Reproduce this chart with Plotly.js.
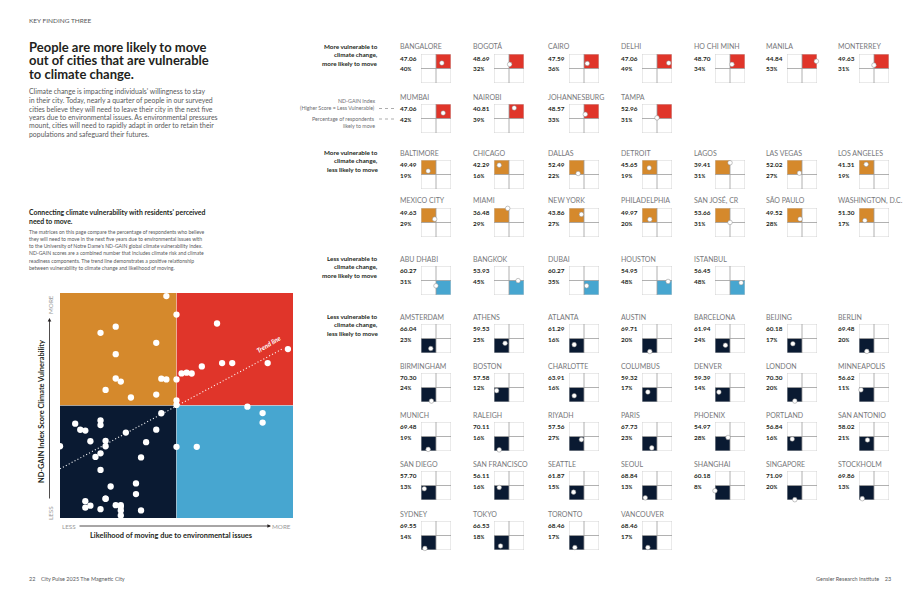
<!DOCTYPE html>
<html><head><meta charset="utf-8">
<script src="https://cdn.plot.ly/plotly-3.0.1.min.js"></script>
<style>html,body{margin:0;padding:0;background:#fff}#chart{width:920px;height:596px}</style>
</head><body><div id="chart"></div>
<script>
// ---------------- DATA ----------------
const redCities = ['BANGALORE','BOGOTÁ','CAIRO','DELHI','HO CHI MINH','MANILA','MONTERREY','MUMBAI','NAIROBI','JOHANNESBURG','TAMPA'];
const redScores = [47.06,48.69,47.59,47.06,48.70,44.84,49.63,47.06,40.81,48.57,52.96];
const redPcts   = [40,32,36,49,34,53,31,42,39,33,31];

const orangeCities = ['BALTIMORE','CHICAGO','DALLAS','DETROIT','LAGOS','LAS VEGAS','LOS ANGELES','MEXICO CITY','MIAMI','NEW YORK','PHILADELPHIA','SAN JOSÉ, CR','SÃO PAULO','WASHINGTON, D.C.'];
const orangeScores = [49.49,42.29,52.49,45.65,39.41,52.02,41.31,49.63,36.48,43.86,49.97,53.66,49.52,51.30];
const orangePcts   = [19,16,22,19,31,27,19,29,29,27,20,31,28,17];

const blueCities = ['ABU DHABI','BANGKOK','DUBAI','HOUSTON','ISTANBUL'];
const blueScores = [60.27,53.93,60.27,54.95,56.45];
const bluePcts   = [31,45,35,48,48];

const navyCities = ['AMSTERDAM','ATHENS','ATLANTA','AUSTIN','BARCELONA','BEIJING','BERLIN',
  'BIRMINGHAM','BOSTON','CHARLOTTE','COLUMBUS','DENVER','LONDON','MINNEAPOLIS',
  'MUNICH','RALEIGH','RIYADH','PARIS','PHOENIX','PORTLAND','SAN ANTONIO',
  'SAN DIEGO','SAN FRANCISCO','SEATTLE','SEOUL','SHANGHAI','SINGAPORE','STOCKHOLM',
  'SYDNEY','TOKYO','TORONTO','VANCOUVER'];
const navyScores = [66.04,59.53,61.29,69.71,61.94,60.18,69.48,
  70.30,57.58,63.91,59.32,59.39,70.30,56.62,
  69.48,70.11,57.56,67.73,54.97,56.84,58.02,
  57.70,56.11,61.87,68.84,60.18,71.09,69.86,
  69.55,66.53,68.46,68.46];
const navyPcts = [23,25,16,20,24,17,20,
  24,12,16,17,14,20,11,
  19,16,27,23,28,16,21,
  13,16,15,13,8,20,13,
  14,18,17,17];

const groupLabels = [
  ['More vulnerable to','climate change,','more likely to move'],
  ['More vulnerable to','climate change,','less likely to move'],
  ['Less vulnerable to','climate change,','more likely to move'],
  ['Less vulnerable to','climate change,','less likely to move']
];
const headerText = 'KEY FINDING THREE';
const titleLines = ['People are more likely to move','out of cities that are vulnerable','to climate change.'];
const bodyLines = [
  "Climate change is impacting individuals' willingness to stay",
  'in their city. Today, nearly a quarter of people in our surveyed',
  'cities believe they will need to leave their city in the next five',
  'years due to environmental issues. As environmental pressures',
  'mount, cities will need to rapidly adapt in order to retain their',
  'populations and safeguard their futures.'
];
const subTitleLines = ["Connecting climate vulnerability with residents' perceived",'need to move.'];
const subBodyLines = [
  'The matrices on this page compare the percentage of respondents who believe',
  'they will need to move in the next five years due to environmental issues with',
  "to the University of Notre Dame's ND-GAIN global climate vulnerability index.",
  'ND-GAIN scores are a combined number that includes climate risk and climate',
  'readiness components. The trend line demonstrates a positive relationship',
  'between vulnerability to climate change and likelihood of moving.'
];
const keyScoreLines = ['ND-GAIN Index','(Higher Score = Less Vulnerable)'];
const keyPctLines = ['Percentage of respondents','likely to move'];
const yTitle = 'ND-GAIN Index Score Climate Vulnerability';
const xTitle = 'Likelihood of moving due to environmental issues';
const footerLeft = '22\u2003 City Pulse 2025 The Magnetic City';
const footerRight = 'Gensler Research Institute\u2003 23';

// ---------------- STYLE / LAYOUT ----------------
const W = 920, H = 596;
const px = x => x / W, py = y => 1 - y / H;
const F = 'Lato, "Open Sans", sans-serif';
const X_RANGE = [8, 54], Y_RANGE = [71.5, 36];
const X_MID = (X_RANGE[0] + X_RANGE[1]) / 2, Y_MID = (Y_RANGE[0] + Y_RANGE[1]) / 2;
const COL = {red:'#e0352a', orange:'#d5892c', blue:'#47a6d0', navy:'#0a1a32'};

const groups = [
  {cities:redCities, scores:redScores, pcts:redPcts, color:COL.red, qx:'right', qy:'top', row:0},
  {cities:orangeCities, scores:orangeScores, pcts:orangePcts, color:COL.orange, qx:'left', qy:'top', row:2},
  {cities:blueCities, scores:blueScores, pcts:bluePcts, color:COL.blue, qx:'right', qy:'bottom', row:4},
  {cities:navyCities, scores:navyScores, pcts:navyPcts, color:COL.navy, qx:'left', qy:'bottom', row:5}
];
const rowTop = [54, 104, 160, 208, 266, 324, 373, 422, 471, 521];
const colLeft = [421, 494, 569, 642, 715, 787, 859];
const BW = 30, BH = 29;

const traces = [], shapes = [], annotations = [];
const layout = {
  width: W, height: H, margin:{l:0,r:0,t:0,b:0},
  paper_bgcolor:'#fff', plot_bgcolor:'rgba(0,0,0,0)',
  showlegend:false, hovermode:false,
  shapes, annotations
};
function axis(dom, range){ return {domain:dom, range:range, visible:false, showgrid:false, zeroline:false, fixedrange:true}; }
function txt(x, y, text, o){
  o = o || {};
  return {xref:'paper', yref:'paper', x:px(x), y:py(y), text:text, showarrow:false,
    xanchor:o.xa || 'left', yanchor:o.ya || 'middle', textangle:o.angle || 0,
    font:{family:F, size:o.size || 7, color:o.color || '#58595b', weight:o.weight || 400, style:o.style || 'normal'}};
}

// ---------------- BIG SCATTER ----------------
const BIG = {l:60, r:293, t:293, b:518};
layout.xaxis = axis([px(BIG.l), px(BIG.r)], X_RANGE);
layout.yaxis = axis([py(BIG.b), py(BIG.t)], Y_RANGE);
const quads = [
  {x0:X_RANGE[0], x1:X_MID, y0:Y_RANGE[1], y1:Y_MID, c:COL.orange},
  {x0:X_MID, x1:X_RANGE[1], y0:Y_RANGE[1], y1:Y_MID, c:COL.red},
  {x0:X_RANGE[0], x1:X_MID, y0:Y_MID, y1:Y_RANGE[0], c:COL.navy},
  {x0:X_MID, x1:X_RANGE[1], y0:Y_MID, y1:Y_RANGE[0], c:COL.blue}
];
quads.forEach(q => shapes.push({type:'rect', xref:'x', yref:'y', x0:q.x0, x1:q.x1, y0:q.y0, y1:q.y1,
  fillcolor:q.c, line:{width:0}, layer:'below'}));
shapes.push({type:'line', xref:'x', yref:'y', x0:X_MID, x1:X_MID, y0:Y_RANGE[0], y1:Y_RANGE[1], line:{color:'rgba(255,255,255,0.6)', width:0.6}, layer:'below'});
shapes.push({type:'line', xref:'x', yref:'y', x0:X_RANGE[0], x1:X_RANGE[1], y0:Y_MID, y1:Y_MID, line:{color:'rgba(255,255,255,0.6)', width:0.6}, layer:'below'});

const allX = [], allY = [];
groups.forEach(g => { allX.push(...g.pcts); allY.push(...g.scores); });
// least-squares trend line
const n = allX.length;
const mx = allX.reduce((a,b)=>a+b,0)/n, my = allY.reduce((a,b)=>a+b,0)/n;
let sxy = 0, sxx = 0;
for (let i=0;i<n;i++){ sxy += (allX[i]-mx)*(allY[i]-my); sxx += (allX[i]-mx)**2; }
const slope = sxy/sxx, icpt = my - slope*mx;
const tx = [X_RANGE[0], Math.max(...allX) - 1];
traces.push({type:'scatter', mode:'lines', x:tx, y:tx.map(v=>icpt+slope*v), xaxis:'x', yaxis:'y',
  line:{color:'rgba(255,255,255,0.95)', width:1.1, dash:'1.1px,2.2px'}, cliponaxis:false});
traces.push({type:'scatter', mode:'markers', x:allX, y:allY, xaxis:'x', yaxis:'y', cliponaxis:false,
  marker:{color:'#fff', size:6.3, line:{width:0}}});
annotations.push(txt(268, 344, 'Trend line', {xa:'center', size:6.5, color:'#fff', weight:700, style:'italic', angle:-31}));

// axis decorations
annotations.push(txt(50, 305, 'MORE', {xa:'center', size:6.3, color:'#9a9a9a', angle:-90}));
annotations.push(txt(50, 513, 'LESS', {xa:'center', size:6.3, color:'#9a9a9a', angle:-90}));
annotations.push(txt(41, 412, yTitle, {xa:'center', size:7.4, color:'#231f20', weight:700, angle:-90}));
annotations.push({xref:'paper', yref:'paper', x:px(49.5), y:py(318), ax:0, ay:182, axref:'pixel', ayref:'pixel',
  text:'', showarrow:true, arrowhead:2, arrowsize:0.9, arrowwidth:0.8, arrowcolor:'#231f20', standoff:0});
annotations.push(txt(60, 526, 'LESS', {size:6.3, color:'#9a9a9a'}));
annotations.push(txt(293, 526, 'MORE', {xa:'right', size:6.3, color:'#9a9a9a'}));
annotations.push({xref:'paper', yref:'paper', x:px(271), y:py(526), ax:-193, ay:0, axref:'pixel', ayref:'pixel',
  text:'', showarrow:true, arrowhead:2, arrowsize:0.9, arrowwidth:0.8, arrowcolor:'#231f20', standoff:0});
annotations.push(txt(171, 535.5, xTitle, {xa:'center', size:7.4, color:'#231f20', weight:700}));

// ---------------- SMALL MULTIPLES ----------------
let k = 2;
groups.forEach((g, gi) => {
  g.cities.forEach((c, i) => {
    const row = g.row + Math.floor(i/7), col = i % 7;
    const L = colLeft[col], T = rowTop[row];
    const xa = 'x'+k, ya = 'y'+k;
    layout['xaxis'+k] = axis([px(L), px(L+BW)], X_RANGE);
    layout['yaxis'+k] = axis([py(T+BH), py(T)], Y_RANGE);
    const qx0 = g.qx === 'right' ? X_MID : X_RANGE[0], qx1 = g.qx === 'right' ? X_RANGE[1] : X_MID;
    const qy0 = g.qy === 'top' ? Y_RANGE[1] : Y_MID, qy1 = g.qy === 'top' ? Y_MID : Y_RANGE[0];
    shapes.push({type:'rect', xref:xa, yref:ya, x0:qx0, x1:qx1, y0:qy0, y1:qy1, fillcolor:g.color, line:{width:0}, layer:'below'});
    shapes.push({type:'rect', xref:xa, yref:ya, x0:X_RANGE[0], x1:X_RANGE[1], y0:Y_RANGE[0], y1:Y_RANGE[1], line:{color:'#cfcfcf', width:0.9}, layer:'below'});
    shapes.push({type:'line', xref:xa, yref:ya, x0:X_MID, x1:X_MID, y0:Y_RANGE[0], y1:Y_RANGE[1], line:{color:'#9d9d9d', width:0.8}, layer:'below'});
    shapes.push({type:'line', xref:xa, yref:ya, x0:X_RANGE[0], x1:X_RANGE[1], y0:Y_MID, y1:Y_MID, line:{color:'#9d9d9d', width:0.8}, layer:'below'});
    traces.push({type:'scatter', mode:'markers', x:[g.pcts[i]], y:[g.scores[i]], xaxis:xa, yaxis:ya, cliponaxis:false,
      marker:{color:'#fff', size:4.6, line:{color:'#8a8a8a', width:0.5}}});
    const lx = L - 23;
    annotations.push(txt(lx, T - 7.5, c, {size:7, color:'#77787b', weight:400}));
    annotations.push(txt(lx, T + 4.5, g.scores[i].toFixed(2), {size:6.4, color:'#231f20', weight:700}));
    annotations.push(txt(lx, T + 15, g.pcts[i] + '<span style="font-size:4.6px">%</span>', {size:6.4, color:'#231f20', weight:700}));
    k++;
  });
  const ly = rowTop[g.row] - 8;
  groupLabels[gi].forEach((s, j) => annotations.push(txt(380, ly + j*8.6, s, {xa:'right', size:6.3, color:'#231f20', weight:700})));
});

// key for Mumbai
const mT = rowTop[1];
annotations.push(txt(377, mT - 3, keyScoreLines[0], {xa:'right', size:5.3, color:'#6d6e71'}));
annotations.push(txt(377, mT + 4.5, keyScoreLines[1], {xa:'right', size:5.3, color:'#6d6e71'}));
annotations.push(txt(377, mT + 15, keyPctLines[0], {xa:'right', size:5.3, color:'#6d6e71'}));
annotations.push(txt(377, mT + 22, keyPctLines[1], {xa:'right', size:5.3, color:'#6d6e71'}));
[mT + 4.5, mT + 15].forEach(yy => shapes.push({type:'line', xref:'paper', yref:'paper', x0:px(379), x1:px(395), y0:py(yy), y1:py(yy),
  line:{color:'#8a8a8a', width:0.7, dash:'dot'}}));

// ---------------- LEFT TEXT ----------------
annotations.push(txt(27, 21, headerText, {size:6.5, color:'#58595b'}));
titleLines.forEach((s, j) => annotations.push(txt(26.5, 47 + j*13.5, s, {size:13, color:'#231f20', weight:700})));
bodyLines.forEach((s, j) => annotations.push(txt(27, 91.5 + j*8.6, s, {size:6.9, color:'#58595b'})));
subTitleLines.forEach((s, j) => annotations.push(txt(27, 212 + j*9.2, s, {size:6.9, color:'#231f20', weight:700})));
subBodyLines.forEach((s, j) => annotations.push(txt(27, 231.5 + j*7.3, s, {size:5.1, color:'#58595b'})));
annotations.push(txt(27, 579, footerLeft, {size:5.5, color:'#58595b'}));
annotations.push(txt(893, 579, footerRight, {xa:'right', size:5.5, color:'#58595b'}));

Plotly.newPlot('chart', traces, layout, {staticPlot:true, displayModeBar:false});
</script>
</body></html>
